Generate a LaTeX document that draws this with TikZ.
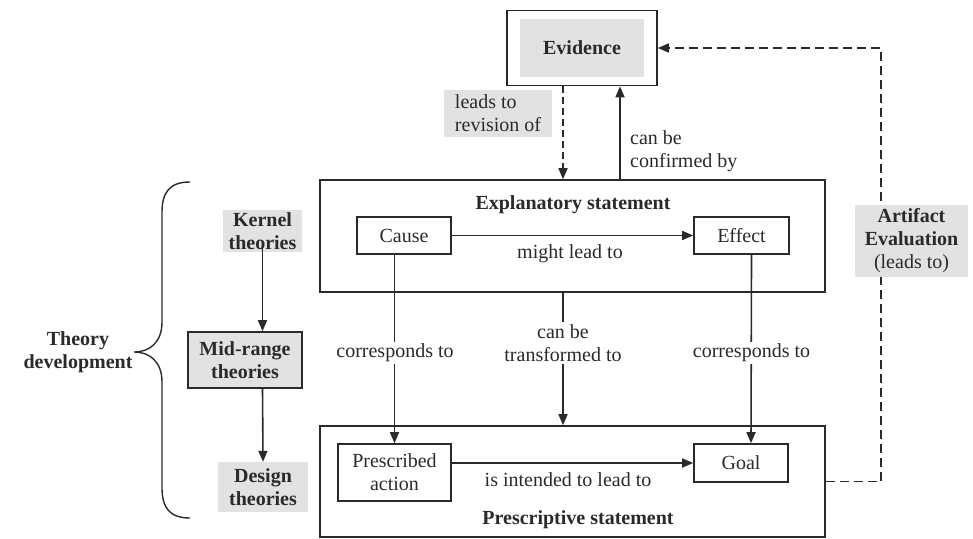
\documentclass[tikz,border=0pt]{standalone}
\usepackage{fontspec}
\setmainfont{Liberation Serif}
\usetikzlibrary{arrows.meta}
\definecolor{boxgray}{HTML}{E2E2E2}
\definecolor{ink}{HTML}{2A2A2A}
\begin{document}
\begin{tikzpicture}[x=1pt,y=-1pt,
  every node/.style={font=\fontsize{20}{23}\selectfont, text=ink, inner sep=0pt},
  line/.style={draw=ink, line width=1.6pt},
  arr/.style={line, -{Triangle[length=11pt,width=9pt]}},
  dashline/.style={line, dash pattern=on 9pt off 5pt},
  plain/.style={draw=ink, line width=1.6pt, rectangle, align=center},
  grey/.style={fill=boxgray, rectangle, align=center, font=\fontsize{20}{23}\selectfont\bfseries},
  lbl/.style={fill=white, align=center, inner sep=2pt}]
\useasboundingbox (0,0) rectangle (973,538);

% Evidence
\node[plain, minimum width=150pt, minimum height=75pt] (evout) at (582,48) {};
\node[grey, minimum width=124pt, minimum height=58pt] (evin) at (582,48) {Evidence};
\node[fill=boxgray, minimum width=108pt, minimum height=47pt, align=left] (leads) at (498,113.5) {leads to\\revision of};
\node[anchor=west, align=left] (confirm) at (630,151) {can be\\confirmed by};

% Explanatory statement
\node[plain, minimum width=505pt, minimum height=112pt] (expl) at (572.5,236) {};
\node[font=\fontsize{20}{23}\selectfont\bfseries] (expltitle) at (573,205) {Explanatory statement};
\node[plain, minimum width=94pt, minimum height=37pt] (cause) at (404,235.5) {Cause};
\node[plain, minimum width=95pt, minimum height=37pt] (effect) at (741.5,235.5) {Effect};
\node (might) at (570,254) {might lead to};
\draw[arr] (cause.east) -- (effect.west);

% Prescriptive statement
\node[plain, minimum width=505pt, minimum height=111pt] (presc) at (572.5,481.5) {};
\node[font=\fontsize{20}{23}\selectfont\bfseries] (presctitle) at (578,520) {Prescriptive statement};
\node[plain, minimum width=113pt, minimum height=57pt] (pa) at (394.5,472.5) {Prescribed\\action};
\node[plain, minimum width=94pt, minimum height=38pt] (goal) at (741,463) {Goal};
\node (intended) at (568,480) {is intended to lead to};
\draw[arr] (goal.west -| pa.east) -- (goal.west);

% vertical links
\draw[arr] (cause.south -| pa.north) -- (pa.north);
\draw[arr] ([xshift=10pt]effect.south) -- ([xshift=10pt]goal.north);
\draw[arr] ([xshift=-9.5pt]expl.south) -- ([xshift=-9.5pt]presc.north);
\node[lbl] (corrL) at (395,353) {corresponds to};
\node[lbl] (corrR) at (751.5,353) {corresponds to};
\node[lbl] (transf) at (563,343) {can be\\transformed to};

% evidence links
\draw[dashline, dash pattern=on 7pt off 4pt, -{Triangle[length=11pt,width=9pt]}] ([xshift=-19pt]evout.south) -- ([xshift=-19pt]evout.south |- expl.north);
\draw[arr] ([xshift=38pt]evout.south |- expl.north) -- ([xshift=38pt]evout.south);

% artifact evaluation loop
\coordinate (loopB) at (881,481.5);
\coordinate (loopT) at (881,48);
\draw[dashline, -{Triangle[length=11pt,width=9pt]}] (presc.east) -- (loopB) -- (loopT) -- (evout.east);
\node[fill=boxgray, minimum width=113pt, minimum height=72pt, align=center] (artifact) at (911.5,241)
  {\textbf{Artifact}\\\textbf{Evaluation}\\(leads to)};

% theory development
\node[grey, minimum width=79pt, minimum height=42pt] (kernel) at (262.5,231) {Kernel\\theories};
\node[grey, draw=ink, line width=1.6pt, minimum width=114pt, minimum height=56pt] (mid) at (245,360) {Mid-range\\theories};
\node[grey, minimum width=90pt, minimum height=50pt] (design) at (263,487) {Design\\theories};
\draw[arr] ([yshift=5pt]kernel.south) -- (kernel.south |- mid.north);
\draw[arr] (kernel.south |- mid.south) -- (design.north);
\node[font=\fontsize{20}{23}\selectfont\bfseries, align=center] (theory) at (78,352) {Theory\\development};

% brace
\coordinate (brTop) at (190,182);
\coordinate (brTip) at (134,352);
\coordinate (brBot) at (190,518);
\draw[draw=ink, line width=1.4pt] (brTop) .. controls (170,182) and (162,192) .. (162,212)
  -- (162,322) .. controls (162,342) and (150,352) .. (brTip)
  .. controls (150,352) and (162,362) .. (162,382)
  -- (162,488) .. controls (162,508) and (170,518) .. (brBot);
\end{tikzpicture}
\end{document}
